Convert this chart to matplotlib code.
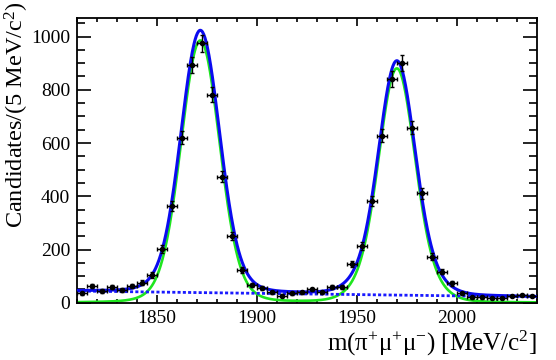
import numpy as np
import matplotlib
matplotlib.use("Agg")
import matplotlib.pyplot as plt
from matplotlib.ticker import MultipleLocator

plt.rcParams['font.family'] = ['Liberation Serif', 'DejaVu Serif']
plt.rcParams['mathtext.fontset'] = 'custom'
plt.rcParams['mathtext.rm'] = 'Liberation Serif'
plt.rcParams['mathtext.it'] = 'Liberation Serif:italic'

# ---- data (5 MeV bins) ----
bin_centers = [1812.5, 1817.5, 1822.5, 1827.5, 1832.5, 1837.5, 1842.5, 1847.5,
               1852.5, 1857.5, 1862.5, 1867.5, 1872.5, 1877.5, 1882.5, 1887.5,
               1892.5, 1897.5, 1902.5, 1907.5, 1912.5, 1917.5, 1922.5, 1927.5,
               1932.5, 1937.5, 1942.5, 1947.5, 1952.5, 1957.5, 1962.5, 1967.5,
               1972.5, 1977.5, 1982.5, 1987.5, 1992.5, 1997.5, 2002.5, 2007.5,
               2012.5, 2017.5, 2022.5, 2027.5, 2032.5, 2037.5]
counts = [35, 63, 45, 58, 48, 63, 75, 104,
          202, 363, 620, 894, 975, 781, 474, 251,
          123, 67, 56, 39, 26, 35, 39, 50,
          39, 58, 60, 145, 213, 382, 628, 841,
          900, 658, 411, 173, 117, 73, 35, 20,
          20, 18, 18, 25, 29, 25]
bin_half_width = 2.5

# ---- fit parameters ----
peak_means = [1871.6, 1970.0]
peak_heights = [985.0, 880.0]
core_sigmas = [9.2, 8.3]
wide_sigmas = [14.0, 13.0]
core_fracs = [0.85, 0.70]
tail_sigma = 40.0
tail_frac = 0.008
bkg_at_1810 = 44.0
bkg_slope = -0.095

x_ticks = [1850, 1900, 1950, 2000]
y_ticks = [0, 200, 400, 600, 800, 1000]


def peak(m, mu, h, s1, s2, f):
    d = m - mu
    return h * (f * np.exp(-0.5 * (d / s1) ** 2)
                + (1 - f - tail_frac) * np.exp(-0.5 * (d / s2) ** 2)
                + tail_frac * np.exp(-0.5 * (d / tail_sigma) ** 2))


m = np.linspace(1810, 2040, 800)
sig = sum(peak(m, mu, h, s1, s2, f) for mu, h, s1, s2, f in
          zip(peak_means, peak_heights, core_sigmas, wide_sigmas, core_fracs))
bkg = bkg_at_1810 + bkg_slope * (m - 1810)
total = sig + bkg

fig = plt.figure(figsize=(5.56, 3.60), dpi=100)
ax = fig.add_axes([0.139, 0.159, 0.9653 - 0.139, 0.951 - 0.159])

x = np.array(bin_centers)
y = np.array(counts, dtype=float)
ax.plot(m, sig, color='#1ee61e', lw=1.9, zorder=2)
ax.plot(m, bkg, color='#1a1aff', lw=2.0, dashes=(1.1, 0.8), zorder=3)
ax.plot(m, total, color='#0b0bf0', lw=2.2, zorder=4)
ax.errorbar(x, y, yerr=np.sqrt(y), xerr=bin_half_width, fmt='o', color='black',
            ms=3.0, elinewidth=1.0, capsize=1.3, capthick=1.0, zorder=5)

ax.set_xlim(1810, 2040)
ax.set_ylim(0, 1071)
ax.set_xticks(x_ticks)
ax.set_yticks(y_ticks)
ax.xaxis.set_minor_locator(MultipleLocator(10))
ax.yaxis.set_minor_locator(MultipleLocator(50))
ax.tick_params(axis='both', which='both', direction='in', top=True, right=True,
               width=1.2, labelsize=14)
ax.tick_params(axis='x', which='major', length=5.8, pad=5)
ax.tick_params(axis='x', which='minor', length=2.9)
ax.tick_params(axis='y', which='major', length=9.8, pad=5)
ax.tick_params(axis='y', which='minor', length=5.5)
for s in ax.spines.values():
    s.set_linewidth(1.3)

fig.text(0.9653, 0.025, 'm(π$^{+}$μ$^{+}$μ$^{-}$) [MeV/c$^{2}$]', ha='right',
         va='baseline', fontsize=18)
fig.text(0.031, 0.995, 'Candidates/(5 MeV/c$^{2}$)', rotation=90, ha='center',
         va='top', fontsize=17.5)

fig.savefig('out.png', dpi=100)
